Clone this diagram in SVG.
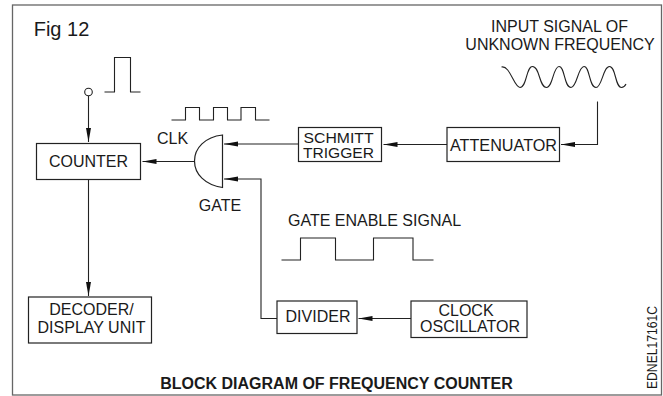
<svg xmlns="http://www.w3.org/2000/svg" width="663" height="396" viewBox="0 0 663 396">
<style>
text{font-family:"Liberation Sans",Arial,sans-serif;font-size:16px;fill:#1a1a1a;text-anchor:middle}
.b{fill:#fff;stroke:#222;stroke-width:1.2}
.l{fill:none;stroke:#222;stroke-width:1.1}
.t{font-size:14.500px}
</style>
<defs>
<marker id="ar" markerUnits="userSpaceOnUse" markerWidth="15" markerHeight="6" refX="14" refY="3" orient="auto"><path d="M0 0.5L14 3L0 5.500Z" fill="#111"/></marker>
</defs>
<rect width="663" height="396" fill="#fff"/>
<rect id="frame" x="12.500" y="5" width="649" height="390" fill="none" stroke="#666" stroke-width="1.3"/>
<g id="connectors">
<path class="l" d="M88.500 96V142" marker-end="url(#ar)"/>
<path class="l" d="M88.500 180V296" marker-end="url(#ar)"/>
<path class="l" d="M194 161.500H142.500" marker-end="url(#ar)"/>
<path class="l" d="M298 144H224" marker-end="url(#ar)"/>
<path class="l" d="M447 144.500H383.500" marker-end="url(#ar)"/>
<path class="l" d="M597.500 101.500V144.500H561" marker-end="url(#ar)"/>
<path class="l" d="M277 318.500H261V179H224" marker-end="url(#ar)"/>
<path class="l" d="M411 318.500H358.500" marker-end="url(#ar)"/>
</g>
<g id="signals">
<circle class="l" cx="88.500" cy="92" r="3.800"/>
<path class="l" d="M104.500 92H114.500V57.500H130.500V92H140.500"/>
<path class="l" d="M171.500 120H185.500V107.500H199.500V120H213.500V107.500H227.500V120H241V107.500H255.500V120H269.500"/>
<path class="l" d="M281.500 260H300.500V238H335.500V260H373.500V238H413V260H433.500"/>
<path class="l" d="M501.500 67C510 65 514 87.500 520 87.500C527 87.500 526 66.500 532.500 66.500C540 66.500 539 87.500 546.500 87.500C553 87.500 553 66.500 559 66.500C565 66.500 564 87.500 571 87.500C577 87.500 578 66.500 584 66.500C590 66.500 589 87.500 596 87.500C602 87.500 603 66.500 609.500 66.500C616 66.500 615 87.500 621.500 87.500C624 87.500 625 86 626 84"/>
</g>
<g id="counter"><rect class="b" x="36.500" y="143.500" width="104" height="36"/><text x="88.500" y="167">COUNTER</text></g>
<g id="decoder"><rect class="b" x="28.500" y="297" width="123" height="46"/><text x="91.500" y="315">DECODER/</text><text x="91.500" y="333">DISPLAY UNIT</text></g>
<g id="gate"><path class="b" d="M222.500 135V187.500C205 185 194.500 174 194.500 161C194.500 148 205 137 222.500 135Z"/></g>
<g id="schmitt"><rect class="b" x="298.500" y="127.500" width="83" height="34"/><text class="t" x="338.500" y="142.500" textLength="70" lengthAdjust="spacingAndGlyphs">SCHMITT</text><text class="t" x="338.500" y="158" textLength="71" lengthAdjust="spacingAndGlyphs">TRIGGER</text></g>
<g id="attenuator"><rect class="b" x="447" y="127.500" width="112.500" height="34"/><text x="503.500" y="150.500" textLength="107" lengthAdjust="spacingAndGlyphs">ATTENUATOR</text></g>
<g id="divider"><rect class="b" x="277" y="301" width="80" height="32.500"/><text x="318" y="322">DIVIDER</text></g>
<g id="clock"><rect class="b" x="411" y="301" width="116" height="36.500"/><text x="466" y="316">CLOCK</text><text x="470" y="331.500">OSCILLATOR</text></g>
<g id="labels">
<text x="61.500" y="36" style="font-size:20px">Fig 12</text>
<text x="172.500" y="144">CLK</text>
<text x="220" y="211">GATE</text>
<text x="374.500" y="225.500">GATE ENABLE SIGNAL</text>
<text x="559.500" y="32">INPUT SIGNAL OF</text>
<text x="560" y="49.500">UNKNOWN FREQUENCY</text>
<text x="336.500" y="388.500" style="font-weight:bold">BLOCK DIAGRAM OF FREQUENCY COUNTER</text>
<text transform="translate(657,389) rotate(-90)" style="font-size:15px;text-anchor:start" textLength="83" lengthAdjust="spacingAndGlyphs">EDNEL17161C</text>
</g>
</svg>
